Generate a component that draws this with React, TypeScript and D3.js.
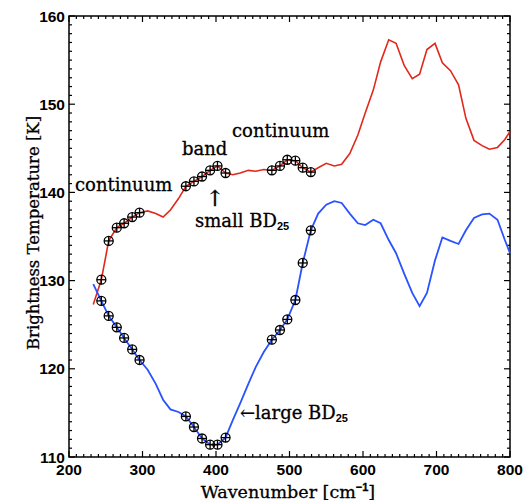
import React, { useEffect, useRef } from 'react';
import * as d3 from 'd3';

// channel wavenumbers [cm-1], shared by both spectra
const wavenumber = [233, 244, 254, 265, 275, 286, 296, 307, 318, 328, 338, 349, 359, 370, 381, 392, 402, 413, 423, 433, 444, 454, 465, 476, 487, 497, 508, 518, 529, 539, 550, 561, 571, 582, 593, 603, 614, 624, 635, 645, 656, 667, 677, 687, 698, 708, 719, 730, 740, 751, 762, 772, 783, 793, 800];
// small BD25 spectrum (red)
const tbSmall = [127.3, 130.1, 134.5, 136.0, 136.5, 137.2, 137.7, 137.9, 137.6, 137.2, 138.0, 139.3, 140.7, 141.25, 141.8, 142.5, 143.0, 142.2, 142.0, 142.2, 142.5, 142.4, 142.6, 142.5, 143.0, 143.7, 143.6, 142.8, 142.3, 142.8, 143.3, 143.0, 143.2, 144.4, 146.5, 149.0, 151.6, 154.8, 157.3, 156.9, 154.4, 152.9, 153.4, 156.2, 156.9, 154.7, 153.8, 152.2, 148.4, 145.9, 145.3, 144.9, 145.1, 146.0, 146.9];
// large BD25 spectrum (blue)
const tbLarge = [129.6, 127.7, 126.0, 124.7, 123.5, 122.2, 121.0, 119.9, 118.3, 116.5, 115.4, 115.1, 114.6, 113.4, 112.1, 111.4, 111.4, 112.2, 114.2, 116.1, 118.3, 120.2, 121.9, 123.3, 124.4, 125.6, 127.8, 132.0, 135.7, 137.6, 138.6, 139.0, 138.8, 137.6, 136.5, 136.3, 136.9, 136.5, 134.6, 133.1, 130.8, 128.6, 127.1, 128.6, 132.3, 134.9, 134.5, 134.15, 135.7, 137.1, 137.5, 137.6, 136.9, 134.6, 133.1];
// channels used for continuum / band (marked with circles)
const markerIdx = [1, 2, 3, 4, 5, 6, 12, 13, 14, 15, 16, 17, 23, 24, 25, 26, 27, 28];

const xTicks = [200, 300, 400, 500, 600, 700, 800];
const yTicks = [110, 120, 130, 140, 150, 160];

export default function App() {
  const svgRef = useRef<SVGSVGElement>(null);

  useEffect(() => {
    const w = 528;
    const h = 504;
    const svg = d3.select(svgRef.current).attr('width', w).attr('height', h);
    svg.selectAll('*').remove();

    const left = 69, right = 510, top = 16, bottom = 457;
    const x = d3.scaleLinear().domain([200, 800]).range([left, right]);
    const y = d3.scaleLinear().domain([110, 160]).range([bottom, top]);

    const serif = 'DejaVu Serif';
    const sans = 'Liberation Sans';

    // frame
    svg.append('rect')
      .attr('x', left).attr('y', top)
      .attr('width', right - left).attr('height', bottom - top)
      .attr('fill', 'none').attr('stroke', '#000').attr('stroke-width', 1.5);

    // ticks (inward on all four sides)
    const ticks = svg.append('g').attr('stroke', '#000').attr('stroke-width', 1.2);
    d3.range(200, 801, 10).forEach(v => {
      const len = v % 100 === 0 ? 6 : 3;
      ticks.append('line').attr('x1', x(v)).attr('x2', x(v)).attr('y1', bottom).attr('y2', bottom - len);
      ticks.append('line').attr('x1', x(v)).attr('x2', x(v)).attr('y1', top).attr('y2', top + len);
    });
    d3.range(110, 161, 1).forEach(v => {
      const len = v % 10 === 0 ? 6 : 3;
      ticks.append('line').attr('y1', y(v)).attr('y2', y(v)).attr('x1', left).attr('x2', left + len);
      ticks.append('line').attr('y1', y(v)).attr('y2', y(v)).attr('x1', right).attr('x2', right - len);
    });

    // tick labels
    svg.append('g').selectAll('text').data(xTicks).join('text')
      .attr('x', d => x(d)).attr('y', 469)
      .attr('text-anchor', 'middle').attr('dominant-baseline', 'central')
      .style('font', `bold 15.5px ${sans}`)
      .text(d => d);
    svg.append('g').selectAll('text').data(yTicks).join('text')
      .attr('x', 65).attr('y', d => y(d))
      .attr('text-anchor', 'end').attr('dominant-baseline', 'central')
      .style('font', `bold 15.5px ${sans}`)
      .text(d => d);

    // axis titles
    const xt = svg.append('text')
      .attr('x', 288).attr('y', 498).attr('text-anchor', 'middle')
      .attr('stroke', '#000').attr('stroke-width', 0.3)
      .style('font', `17.5px ${serif}`);
    xt.append('tspan').text('Wavenumber [cm');
    xt.append('tspan').attr('dy', -7).style('font', `bold 11px ${sans}`).text('−1');
    xt.append('tspan').attr('dy', 7).text(']');

    svg.append('text')
      .attr('transform', `translate(39,${233}) rotate(-90)`)
      .attr('text-anchor', 'middle')
      .attr('stroke', '#000').attr('stroke-width', 0.3)
      .style('font', `16.5px ${serif}`)
      .text('Brightness Temperature [K]');

    // spectra
    const line = d3.line<number>().x((_, i) => x(wavenumber[i])).y(d => y(d));
    svg.append('path').datum(tbSmall).attr('d', line)
      .attr('fill', 'none').attr('stroke', '#e0281c').attr('stroke-width', 1.6);
    svg.append('path').datum(tbLarge).attr('d', line)
      .attr('fill', 'none').attr('stroke', '#2a52ff').attr('stroke-width', 1.8);

    // circled-plus markers
    const r = 4.5;
    [tbSmall, tbLarge].forEach(series => {
      const g = svg.append('g').attr('stroke', '#000').attr('stroke-width', 1.3).attr('fill', 'none');
      markerIdx.forEach(i => {
        const cx = x(wavenumber[i]);
        const cy = y(series[i]);
        g.append('circle').attr('cx', cx).attr('cy', cy).attr('r', r);
        g.append('line').attr('x1', cx - r).attr('x2', cx + r).attr('y1', cy).attr('y2', cy);
        g.append('line').attr('x1', cx).attr('x2', cx).attr('y1', cy - r).attr('y2', cy + r);
      });
    });

    // annotations
    const note = (tx: number, ty: number, s: string, size = 18) =>
      svg.append('text').attr('x', tx).attr('y', ty)
        .attr('stroke', '#000').attr('stroke-width', 0.3)
        .style('font', `${size}px ${serif}`).text(s);
    note(75, 191, 'continuum');
    note(182, 155, 'band');
    note(232, 137, 'continuum');
    note(215, 206, '↑', 22).attr('text-anchor', 'middle');

    const small = note(195, 227, 'small BD');
    small.append('tspan').attr('dy', 3).attr('stroke-width', 0).style('font', `bold 11px ${sans}`).text('25');

    const large = note(240, 419, '←large BD');
    large.append('tspan').attr('dy', 3).attr('stroke-width', 0).style('font', `bold 11px ${sans}`).text('25');
  }, []);

  return (
    <div style={{ position: 'absolute', left: 0, top: 0 }}>
      <svg ref={svgRef}></svg>
    </div>
  );
}
